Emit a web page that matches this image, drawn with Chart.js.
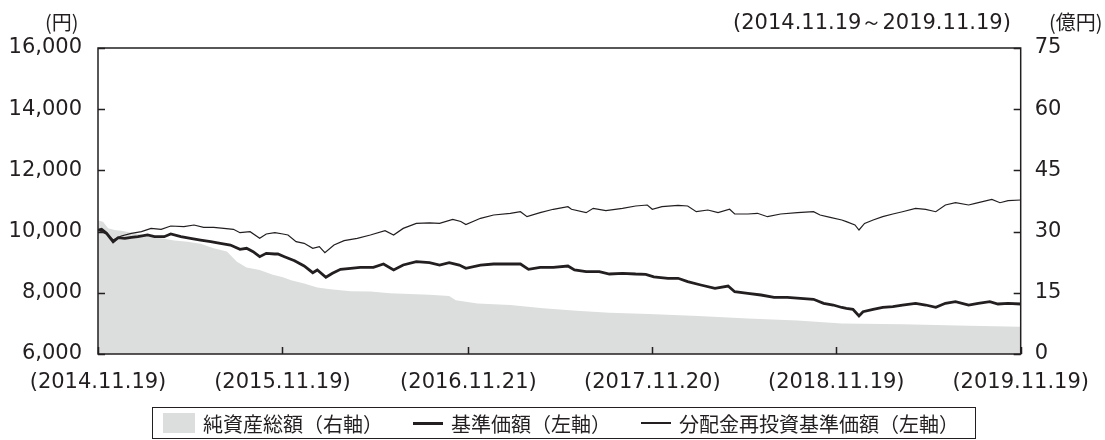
<!DOCTYPE html>
<html lang="ja">
<head>
<meta charset="utf-8">
<script src="https://cdn.jsdelivr.net/npm/chart.js"></script>
<style>
  body { margin: 0; background: #fff; }
  #wrap { position: relative; width: 1105px; height: 440px; }
  canvas { position: absolute; left: 0; top: 0; }
  .lbl { position: absolute; font-family: "DejaVu Sans", sans-serif; font-size: 21px; color: #231f20; white-space: nowrap; line-height: 1; }
  .jp { font-family: "Noto Sans CJK JP", sans-serif; font-size: 20px; }
  #legend {
    position: absolute; left: 152px; top: 407px; width: 824px; height: 32px;
    border: 1.5px solid #231f20; box-sizing: border-box;
    display: flex; align-items: center;
    font-family: "Noto Sans CJK JP", sans-serif; font-size: 20px; color: #231f20;
  }
  .sw { display: inline-block; flex: none; }
</style>
</head>
<body>
<div id="wrap">
  <canvas id="grafico" width="1105" height="440"></canvas>
  <span class="lbl jp" style="left:45px; top:12px;">(円)</span>
  <span class="lbl" style="left:733px; top:12px;">(2014.11.19～2019.11.19)</span>
  <span class="lbl jp" style="left:1049px; top:12px;">(億円)</span>
  <div id="legend">
    <span class="sw" style="width:32px; height:20px; background:#dcdddd; margin-left:10px;"></span>
    <span style="margin-left:8px;">純資産総額（右軸）</span>
    <span class="sw" style="width:30px; height:3px; background:#231f20; margin-left:30px;"></span>
    <span style="margin-left:8px;">基準価額（左軸）</span>
    <span class="sw" style="width:30px; height:1.3px; background:#231f20; margin-left:30px;"></span>
    <span style="margin-left:8px;">分配金再投資基準価額（左軸）</span>
  </div>
</div>
<script>
// ===== datos (días desde 2014.11.19) =====

// tick labels del eje X
const fechasTicks = [0, 365, 733, 1097, 1461, 1826];
const etiquetasTicks = ["(2014.11.19)", "(2015.11.19)", "(2016.11.21)", "(2017.11.20)", "(2018.11.19)", "(2019.11.19)"];

// 基準価額 (円)
const diasPrecio = [0, 7, 17, 30, 40, 53, 66, 79, 98, 112, 131, 144, 164, 183, 203, 223, 242, 262, 281, 294,
  307, 320, 333, 350, 356, 369, 389, 408, 425, 434, 451, 464, 480, 500, 519, 545, 565, 585, 604, 630,
  656, 676, 695, 715, 728, 757, 783, 816, 836, 852, 875, 901, 930, 943, 966, 992, 1012, 1038, 1064, 1084,
  1100, 1109, 1128, 1148, 1167, 1193, 1221, 1247, 1260, 1286, 1312, 1338, 1364, 1390, 1416, 1436, 1455, 1472, 1481, 1494,
  1506, 1514, 1534, 1553, 1573, 1592, 1618, 1638, 1658, 1677, 1697, 1723, 1742, 1765, 1781, 1801, 1826];
const precio = [10050, 10075, 9944, 9670, 9800, 9780, 9813, 9833, 9889, 9833, 9833, 9922, 9833, 9780, 9725, 9670, 9618, 9562, 9421, 9454,
  9343, 9180, 9290, 9268, 9268, 9180, 9049, 8876, 8657, 8745, 8506, 8637, 8768, 8801, 8833, 8833, 8941, 8745, 8908, 9016,
  8984, 8908, 8984, 8908, 8801, 8908, 8941, 8941, 8941, 8768, 8833, 8833, 8876, 8745, 8690, 8690, 8614, 8637, 8614, 8604,
  8520, 8506, 8474, 8474, 8363, 8255, 8147, 8222, 8036, 7984, 7928, 7853, 7853, 7820, 7788, 7657, 7601, 7520, 7493, 7460,
  7242, 7382, 7460, 7526, 7546, 7601, 7657, 7601, 7526, 7657, 7709, 7601, 7657, 7709, 7634, 7657, 7634];

// 分配金再投資基準価額 (円)
const diasReinv = [0, 17, 30, 46, 66, 86, 105, 125, 144, 170, 190, 209, 229, 249, 268, 281, 301, 320, 333, 350,
  366, 376, 392, 408, 425, 438, 449, 467, 487, 513, 539, 568, 585, 604, 630, 656, 676, 702, 718, 728,
  757, 783, 816, 836, 849, 875, 901, 930, 937, 966, 980, 1005, 1038, 1064, 1087, 1097, 1116, 1148, 1167, 1184,
  1207, 1227, 1250, 1260, 1286, 1305, 1325, 1351, 1384, 1416, 1429, 1449, 1472, 1481, 1498, 1506, 1517, 1534, 1553, 1573,
  1592, 1618, 1638, 1658, 1677, 1697, 1723, 1736, 1769, 1785, 1801, 1826];
const reinv = [10050, 9922, 9725, 9856, 9944, 9997, 10105, 10075, 10183, 10160, 10216, 10140, 10140, 10105, 10075, 9964, 9997, 9780, 9922, 9964,
  9922, 9889, 9670, 9618, 9454, 9506, 9310, 9562, 9703, 9780, 9889, 10029, 9889, 10105, 10268, 10288, 10268, 10399, 10330, 10230,
  10434, 10542, 10598, 10650, 10487, 10618, 10729, 10814, 10729, 10618, 10761, 10683, 10761, 10837, 10869, 10729, 10814, 10859, 10837, 10650,
  10706, 10618, 10729, 10575, 10575, 10598, 10487, 10575, 10618, 10650, 10542, 10467, 10380, 10324, 10216, 10052, 10268, 10379, 10487, 10575,
  10650, 10761, 10729, 10650, 10869, 10944, 10869, 10925, 11049, 10944, 11010, 11033];

// 純資産総額 (億円)
const diasActivos = [0, 10, 20, 33, 46, 72, 98, 125, 151, 177, 203, 229, 255, 275, 294, 320, 346, 366, 382, 408,
  434, 460, 500, 539, 578, 617, 656, 695, 708, 728, 751, 816, 881, 947, 1012, 1090, 1188, 1286, 1384, 1472,
  1592, 1723, 1826];
const activos = [32.7, 32.4, 30.8, 30.4, 30.2, 29.6, 28.9, 28.4, 27.8, 27.5, 27.0, 25.9, 25.1, 22.6, 21.2, 20.6, 19.4, 18.8, 18.1, 17.3,
  16.3, 15.9, 15.4, 15.3, 14.9, 14.7, 14.5, 14.2, 13.2, 12.8, 12.4, 12.0, 11.2, 10.6, 10.1, 9.8, 9.3, 8.7, 8.2, 7.5,
  7.3, 6.9, 6.7];

// ===== utilidades =====
const aPuntos = (xs, ys) => xs.map((x, i) => ({ x, y: ys[i] }));
const tinta = "#231f20";
const fuente = { family: "DejaVu Sans", size: 21 };

// marco y marcas de graduación hacia dentro
const marcoPlugin = {
  id: "marco",
  afterDatasetsDraw(chart) {
    const { ctx, chartArea: a, scales } = chart;
    ctx.save();
    ctx.strokeStyle = tinta;
    ctx.lineWidth = 1.5;
    ctx.strokeRect(a.left, a.top, a.right - a.left, a.bottom - a.top);
    ctx.beginPath();
    scales.y.ticks.forEach(t => {
      const y = Math.round(scales.y.getPixelForValue(t.value)) + 0.5;
      ctx.moveTo(a.left, y); ctx.lineTo(a.left + 7, y);
    });
    scales.y1.ticks.forEach(t => {
      const y = Math.round(scales.y1.getPixelForValue(t.value)) + 0.5;
      ctx.moveTo(a.right, y); ctx.lineTo(a.right - 7, y);
    });
    scales.x.ticks.forEach(t => {
      const x = Math.round(scales.x.getPixelForValue(t.value)) + 0.5;
      ctx.moveTo(x, a.bottom); ctx.lineTo(x, a.bottom - 7);
    });
    ctx.stroke();
    ctx.restore();
  }
};

const ctx = document.getElementById("grafico").getContext("2d");

new Chart(ctx, {
  type: "line",
  data: {
    datasets: [
      {
        label: "基準価額（左軸）",
        data: aPuntos(diasPrecio, precio),
        yAxisID: "y",
        borderColor: tinta,
        borderWidth: 2.8,
        pointRadius: 0,
        fill: false,
        order: 1
      },
      {
        label: "分配金再投資基準価額（左軸）",
        data: aPuntos(diasReinv, reinv),
        yAxisID: "y",
        borderColor: tinta,
        borderWidth: 1.2,
        pointRadius: 0,
        fill: false,
        order: 2
      },
      {
        label: "純資産総額（右軸）",
        data: aPuntos(diasActivos, activos),
        yAxisID: "y1",
        borderWidth: 0,
        borderColor: "rgba(0,0,0,0)",
        backgroundColor: "#dcdddd",
        pointRadius: 0,
        fill: "start",
        order: 3
      }
    ]
  },
  options: {
    responsive: false,
    animation: false,
    layout: { padding: { top: 48, left: 0, right: 0, bottom: 0 } },
    plugins: { legend: { display: false }, tooltip: { enabled: false } },
    scales: {
      x: {
        type: "linear",
        min: 0,
        max: 1826,
        grid: { display: false, drawTicks: false },
        border: { display: false },
        afterBuildTicks: s => { s.ticks = fechasTicks.map(v => ({ value: v })); },
        afterFit: s => { s.height = 86; },
        ticks: {
          autoSkip: false,
          maxRotation: 0,
          padding: 16,
          color: tinta,
          font: fuente,
          callback: v => etiquetasTicks[fechasTicks.indexOf(v)]
        }
      },
      y: {
        position: "left",
        min: 6000,
        max: 16000,
        grid: { display: false, drawTicks: false },
        border: { display: false },
        afterFit: s => { s.width = 98; },
        ticks: {
          stepSize: 2000,
          padding: 16,
          color: tinta,
          font: fuente,
          callback: v => v.toLocaleString("en-US")
        }
      },
      y1: {
        position: "right",
        min: 0,
        max: 75,
        grid: { display: false, drawTicks: false },
        border: { display: false },
        afterFit: s => { s.width = 74; },
        ticks: {
          stepSize: 15,
          padding: 14,
          color: tinta,
          font: fuente
        }
      }
    }
  },
  plugins: [marcoPlugin]
});
</script>
</body>
</html>
